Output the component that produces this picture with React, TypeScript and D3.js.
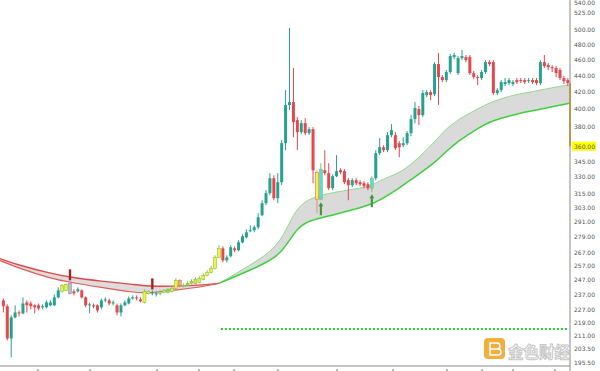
import { useRef, useEffect } from 'react'
import * as d3 from 'd3'

const W = 600
const H = 371

// [open, high, low, close]
const candles: number[][] = [
  [233.0, 234.3, 225.2, 229.2], [229.2, 230.4, 208.1, 209.3], [209.3, 223.4, 198.4, 222.1], [222.1, 229.8, 221.5, 225.2],
  [225.2, 226.5, 222.7, 224.6], [224.6, 235.0, 224.0, 231.0], [231.7, 233.0, 225.2, 229.8], [231.0, 232.4, 227.2, 229.2],
  [229.8, 230.4, 224.6, 228.5], [229.8, 231.0, 226.5, 227.8], [228.5, 230.4, 227.2, 229.2], [228.5, 233.0, 227.8, 231.7],
  [229.8, 233.0, 229.2, 231.7], [229.8, 237.0, 229.2, 235.0], [235.0, 241.7, 234.3, 239.7], [239.0, 243.8, 238.3, 243.1],
  [239.7, 244.5, 239.0, 243.8], [244.5, 245.9, 237.0, 237.7], [239.0, 240.4, 236.3, 237.7], [239.0, 241.7, 238.3, 240.4],
  [239.7, 240.4, 234.3, 235.0], [235.0, 235.6, 228.5, 229.8], [229.8, 231.7, 224.6, 230.4], [229.8, 231.0, 227.8, 229.2],
  [229.8, 230.4, 225.2, 226.5], [228.5, 234.3, 227.2, 233.0], [233.0, 235.0, 231.7, 233.6], [233.0, 234.3, 229.8, 231.0],
  [231.0, 233.0, 229.8, 231.7], [229.8, 231.0, 223.4, 225.2], [225.2, 231.0, 222.7, 229.8], [229.8, 233.0, 229.2, 231.7],
  [231.0, 235.6, 230.4, 234.3], [234.3, 236.3, 233.6, 235.0], [235.0, 236.3, 233.0, 234.3], [233.6, 235.0, 231.7, 232.4],
  [231.7, 240.4, 231.0, 239.0], [237.7, 239.7, 237.0, 239.0], [237.7, 239.7, 236.3, 238.3], [237.0, 239.0, 235.6, 237.7],
  [237.7, 239.7, 236.3, 238.3], [238.3, 240.4, 237.7, 239.7], [238.3, 241.1, 237.7, 240.4], [239.0, 242.5, 238.3, 241.1],
  [241.1, 248.0, 240.4, 246.6], [246.6, 247.3, 241.7, 243.1], [242.5, 244.5, 241.7, 243.1], [243.1, 245.9, 242.5, 244.5],
  [244.5, 247.3, 243.8, 245.9], [244.5, 248.7, 243.8, 247.3], [245.2, 249.4, 244.5, 248.0], [247.3, 251.5, 246.6, 250.1],
  [250.1, 253.7, 249.4, 252.2], [252.2, 256.6, 251.5, 255.1], [255.1, 264.6, 254.4, 263.1], [263.1, 272.2, 262.4, 269.9],
  [269.9, 271.4, 259.4, 260.9], [260.9, 264.6, 259.4, 263.1], [263.9, 272.2, 263.1, 270.7], [269.9, 271.4, 266.9, 268.4],
  [268.4, 276.1, 267.6, 274.5], [274.5, 280.8, 273.7, 279.2], [278.4, 284.8, 277.6, 282.4], [283.2, 288.0, 282.4, 284.0],
  [284.0, 288.0, 282.4, 286.4], [286.4, 298.0, 284.8, 294.6], [296.3, 309.1, 295.4, 306.5], [306.5, 318.0, 304.8, 315.3],
  [315.3, 333.6, 313.5, 328.9], [328.9, 331.7, 309.1, 310.9], [310.9, 333.6, 306.5, 325.2], [325.2, 366.2, 322.5, 363.1],
  [363.1, 421.7, 356.0, 404.3], [404.3, 502.5, 398.6, 407.7], [407.7, 448.8, 369.3, 385.3], [387.5, 390.8, 356.0, 374.6],
  [374.6, 387.5, 372.5, 384.2], [384.2, 389.7, 371.4, 373.5], [373.5, 379.9, 371.4, 377.8], [377.8, 379.9, 324.3, 336.4],
  [334.5, 336.4, 298.0, 310.0], [310.0, 343.2, 309.1, 337.4], [336.4, 356.0, 331.7, 333.6], [333.6, 343.2, 318.0, 319.8],
  [319.8, 332.6, 318.0, 330.8], [330.8, 351.0, 329.9, 335.5], [336.4, 338.3, 332.6, 334.5], [335.5, 337.4, 323.4, 325.2],
  [327.1, 328.9, 309.1, 322.5], [322.5, 328.9, 320.7, 327.1], [327.1, 328.9, 322.5, 324.3], [325.2, 327.1, 321.6, 323.4],
  [324.3, 326.2, 319.8, 321.6], [323.4, 325.2, 318.0, 319.8], [319.8, 330.8, 316.2, 328.9], [328.9, 356.0, 327.1, 353.0],
  [353.0, 368.3, 351.0, 359.0], [359.0, 361.0, 354.0, 356.0], [356.0, 374.6, 354.0, 371.4], [371.4, 383.1, 369.3, 376.7],
  [371.4, 374.6, 356.0, 358.0], [363.1, 365.2, 349.0, 359.0], [361.0, 369.3, 359.0, 363.1], [363.1, 375.6, 361.0, 373.5],
  [373.5, 393.0, 370.3, 388.6], [388.6, 407.7, 384.2, 400.9], [399.8, 403.2, 382.1, 393.0], [393.0, 421.7, 390.8, 418.2],
  [415.8, 421.7, 413.5, 419.4], [419.4, 421.7, 410.0, 415.8], [417.0, 456.4, 414.6, 453.9], [453.9, 468.3, 404.3, 437.5],
  [437.5, 440.0, 431.4, 433.8], [433.8, 446.3, 431.4, 443.8], [443.8, 466.9, 441.2, 464.2], [462.9, 468.3, 460.3, 465.6],
  [442.5, 464.2, 440.0, 461.6], [461.6, 472.2, 459.0, 464.2], [462.9, 465.6, 456.4, 459.0], [462.9, 465.6, 440.0, 442.5],
  [442.5, 445.1, 435.0, 437.5], [437.5, 440.0, 427.7, 436.3], [436.3, 446.3, 433.8, 443.8], [443.8, 459.0, 441.3, 456.4],
  [456.4, 459.0, 451.3, 453.9], [456.4, 459.0, 415.8, 418.2], [418.2, 424.1, 415.8, 421.7], [421.7, 433.8, 419.4, 431.4],
  [429.0, 436.3, 426.5, 431.4], [430.2, 436.3, 427.7, 433.8], [429.0, 433.8, 426.5, 431.4], [433.8, 436.3, 429.0, 431.4],
  [433.8, 436.3, 430.2, 432.6], [433.8, 436.3, 429.0, 431.4], [432.6, 436.3, 430.2, 433.8], [433.8, 436.3, 429.0, 431.4],
  [433.8, 436.3, 427.7, 430.2], [430.2, 459.0, 427.7, 456.4], [456.4, 465.6, 448.8, 451.3], [452.6, 455.1, 446.3, 450.0],
  [450.0, 452.6, 443.8, 448.8], [448.8, 451.3, 437.5, 442.5], [446.3, 448.8, 433.8, 436.3], [436.3, 438.8, 429.0, 432.6],
  [433.8, 436.3, 426.5, 430.2],
]

// candles painted by the signal indicator
const signalColors: Record<number, string> = {
  15: '#e6f04a', 16: '#f4f23c', 17: '#86d2ee', 36: '#eef04a', 37: '#eef04a', 40: '#bfe88e',
  41: '#bfe88e', 42: '#90d86c', 43: '#d9f062', 44: '#f4ee46', 45: '#f5b650', 46: '#bfe88e',
  47: '#90d86c', 48: '#90d86c', 49: '#f4d64a', 50: '#d9f062', 51: '#f4f23c', 52: '#f4f23c',
  53: '#f4f23c', 54: '#f4f23c', 55: '#f4f23c', 80: '#f4f23c', 81: '#4fdcec', 94: '#4fdcec',
}
const sellArrows = [17, 38]
const buyArrows = [81, 94]

const redBandIdx = [-1, 4, 12, 17, 25, 33, 37, 43, 50, 55]
const redUpper = [262.3, 257.3, 251.5, 248.7, 245.9, 243.8, 242.5, 242.5, 243.1, 244.5]
const redLower = [260.9, 255.1, 248.0, 245.2, 241.7, 238.3, 237.7, 239.7, 241.7, 244.5]

const greenBandIdx = [55, 63, 70, 73, 75, 78, 84, 93.5, 96, 101, 104.5, 110, 113, 116, 118, 121.5, 124, 127, 130, 133, 137, 142, 144.5]
const greenUpper = [244.5, 257.3, 270.7, 290.5, 302.2, 310.9, 316.2, 320.7, 327.1, 333.6, 343.2, 364.1, 378.8, 387.5, 393.0, 401.0, 407.0, 411.5, 415.8, 418.2, 421.7, 426.5, 427.7]
const greenLower = [244.5, 253.7, 263.1, 276.1, 285.6, 292.1, 296.3, 304.8, 309.1, 319.8, 328.9, 343.2, 355.0, 365.1, 370.3, 379.9, 385.3, 389.7, 393.0, 396.4, 399.7, 404.3, 406.6]

const supportLevel = 215
const supportStart = 56
const lastPrice = 360

const priceTicks = [540, 525, 500, 480, 460, 440, 420, 400, 380, 360, 345, 330, 315, 303, 291, 279, 267, 257, 247, 237, 227, 219, 211, 203.5, 195.5]
const timeTickX = [38, 90, 157, 199, 234, 278, 337, 393, 447, 482, 513, 555]

const UP = '#26a08f'
const DOWN = '#e5474b'

const App = () => {
  const svgRef = useRef<SVGSVGElement>(null)

  useEffect(() => {
    const svg = d3.select(svgRef.current)
    svg.selectAll('*').remove()

    const plotRight = 570
    const plotBottom = 366
    const n = candles.length

    const xBand = d3.scaleBand<number>().domain(d3.range(n)).range([1.4, 569.8])
    const bw = xBand.bandwidth()
    const x = d3.scaleLinear().domain([0, n - 1]).range([xBand(0)! + bw / 2, xBand(n - 1)! + bw / 2])
    const y = d3.scaleLog().domain([195.5, 540]).range([362.6, 2.5])

    svg.append('rect').attr('width', W).attr('height', H).attr('fill', '#fff')

    svg.append('defs').append('clipPath').attr('id', 'plot')
      .append('rect').attr('x', 0).attr('y', 0).attr('width', plotRight).attr('height', plotBottom)

    const plot = svg.append('g').attr('clip-path', 'url(#plot)')

    // bands
    const drawBand = (idx: number[], up: number[], lo: number[], fill: string, upColor: string, loColor: string, upW: number, loW: number) => {
      const pts = idx.map((d, k) => ({ i: d, u: up[k], l: lo[k] }))
      plot.append('path').datum(pts)
        .attr('d', d3.area<any>().x((d) => x(d.i)).y0((d) => y(d.l)).y1((d) => y(d.u)).curve(d3.curveBasis))
        .attr('fill', fill)
      plot.append('path').datum(pts)
        .attr('d', d3.line<any>().x((d) => x(d.i)).y((d) => y(d.u)).curve(d3.curveBasis))
        .attr('fill', 'none').attr('stroke', upColor).attr('stroke-width', upW)
      plot.append('path').datum(pts)
        .attr('d', d3.line<any>().x((d) => x(d.i)).y((d) => y(d.l)).curve(d3.curveBasis))
        .attr('fill', 'none').attr('stroke', loColor).attr('stroke-width', loW)
    }
    drawBand(redBandIdx, redUpper, redLower, '#dcdcdc', '#e04848', '#e25a5a', 1.4, 1.2)
    drawBand(greenBandIdx, greenUpper, greenLower, '#dadada', '#8fdc8a', '#3fcf3f', 1, 1.5)

    // support level
    plot.append('line')
      .attr('x1', x(supportStart) - 2).attr('x2', plotRight - 2)
      .attr('y1', y(supportLevel)).attr('y2', y(supportLevel))
      .attr('stroke', '#22cc22').attr('stroke-width', 2).attr('stroke-dasharray', '2,2')

    // candles
    const g = plot.append('g')
    candles.forEach(([o, h, l, c], i) => {
      const cx = x(i)
      const up = c >= o
      const sig = signalColors[i]
      const color = sig ? sig : up ? UP : DOWN
      const wickColor = sig ? (up ? '#7fbf6a' : '#e08a8a') : color
      g.append('line')
        .attr('x1', cx).attr('x2', cx).attr('y1', y(h)).attr('y2', y(l))
        .attr('stroke', wickColor).attr('stroke-width', 1)
      const top = y(Math.max(o, c))
      const bh = Math.max(1, y(Math.min(o, c)) - top)
      g.append('rect')
        .attr('x', cx - bw * 0.38).attr('y', top)
        .attr('width', bw * 0.76).attr('height', bh)
        .attr('fill', color)
        .attr('stroke', sig ? (up ? '#8cc63f' : '#e07070') : 'none')
        .attr('stroke-width', sig ? 0.6 : 0)
    })

    // signal arrows
    sellArrows.forEach((i) => {
      const y0 = y(candles[i][1]) - 1
      g.append('line').attr('x1', x(i)).attr('x2', x(i)).attr('y1', y0 - 11).attr('y2', y0)
        .attr('stroke', '#a82020').attr('stroke-width', 2.4)
    })
    buyArrows.forEach((i) => {
      const y0 = y(candles[i][2]) + 2
      g.append('line').attr('x1', x(i)).attr('x2', x(i)).attr('y1', y0 + 3).attr('y2', y0 + 13)
        .attr('stroke', '#3f9a3f').attr('stroke-width', 2.2)
      g.append('path')
        .attr('d', `M${x(i) - 2.5},${y0 + 4}L${x(i)},${y0}L${x(i) + 2.5},${y0 + 4}Z`)
        .attr('fill', '#3f9a3f')
    })

    // price marker bar along the scale
    const lastClose = candles[n - 1][3]
    svg.append('rect')
      .attr('x', plotRight - 1).attr('y', y(lastClose))
      .attr('width', 2).attr('height', y(lastPrice) - y(lastClose))
      .attr('fill', '#e6a417')

    // axes
    svg.append('line').attr('x1', 0).attr('x2', plotRight).attr('y1', plotBottom).attr('y2', plotBottom)
      .attr('stroke', '#8a8a8a').attr('stroke-width', 1)
    svg.append('line').attr('x1', plotRight).attr('x2', plotRight).attr('y1', 0).attr('y2', H)
      .attr('stroke', '#8a8a8a').attr('stroke-width', 1)

    svg.append('rect')
      .attr('x', plotRight + 2).attr('y', y(lastPrice) - 4.5)
      .attr('width', 24).attr('height', 9).attr('fill', '#ffff00')

    const axis = d3.axisRight(y).tickValues(priceTicks).tickFormat((d) => (d as number).toFixed(2)).tickSize(0).tickPadding(4)
    const ag = svg.append('g').attr('transform', `translate(${plotRight},0)`).call(axis)
    ag.select('.domain').remove()
    ag.selectAll('text').attr('font-family', 'DejaVu Sans, sans-serif').attr('font-size', 6).attr('fill', '#555')

    svg.append('g').selectAll('line').data(timeTickX).join('line')
      .attr('x1', (d) => d).attr('x2', (d) => d).attr('y1', plotBottom + 3).attr('y2', H)
      .attr('stroke', '#b8b8b8').attr('stroke-width', 2)

    // watermark
    const wm = svg.append('g').attr('opacity', 0.85)
    wm.append('rect').attr('x', 484).attr('y', 338).attr('width', 21).attr('height', 21).attr('rx', 4).attr('fill', '#f2a21c')
    wm.append('path').attr('d', 'M490,343h7a3,3 0 0 1 0,6h-7zM490,349h8a3,3 0 0 1 0,6h-8z').attr('fill', 'none').attr('stroke', '#fff').attr('stroke-width', 1.6)
    wm.append('text').attr('x', 508).attr('y', 358).text('金色财经')
      .attr('font-family', 'Noto Sans CJK SC, sans-serif').attr('font-size', 15.5).attr('font-weight', 700)
      .attr('fill', '#fff').attr('stroke', '#bdbdbd').attr('stroke-width', 1)
  }, [])

  return (
    <svg ref={svgRef} width={W} height={H} style={{ position: 'absolute', left: 0, top: 0 }}></svg>
  )
}

export default App
